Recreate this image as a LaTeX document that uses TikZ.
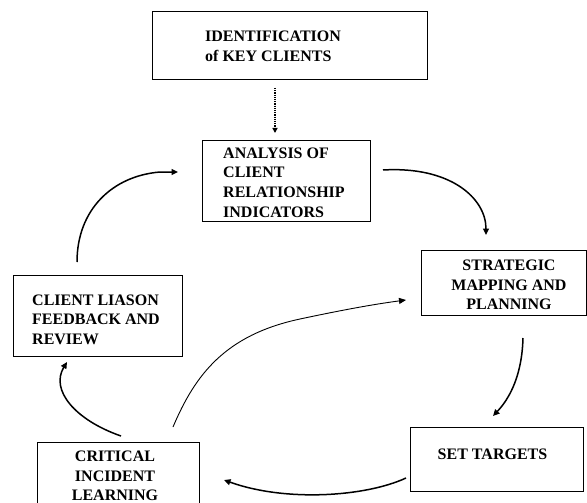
\documentclass[tikz,border=0pt]{standalone}
\usepackage{fontspec}
\setmainfont{Liberation Serif}
\usetikzlibrary{arrows.meta}
\begin{document}
\begin{tikzpicture}[x=1pt,y=-1pt,
  box/.style={draw, line width=1.3pt, rectangle, inner sep=0pt, anchor=north west},
  lbl/.style={font=\fontsize{16}{19.6}\selectfont\bfseries, inner sep=0pt},
  flow/.style={line width=1.5pt, -{Triangle[length=6.5pt,width=6pt]}},
  thinflow/.style={line width=0.9pt, -{Triangle[length=7pt,width=6pt]}},
  dotflow/.style={line width=1.4pt, dash pattern=on 1.2pt off 1pt, -{Triangle[length=5pt,width=5pt]}}]
\useasboundingbox (0,0) rectangle (587,503);

% boxes
\node[box, minimum width=275pt, minimum height=68pt] (ident) at (152,11) {};
\node[box, minimum width=168pt, minimum height=81pt] (analysis) at (202,140) {};
\node[box, minimum width=165pt, minimum height=65pt] (strategic) at (421,250) {};
\node[box, minimum width=169pt, minimum height=81pt] (liason) at (13,275) {};
\node[box, minimum width=162pt, minimum height=80pt] (critical) at (37,442) {};
\node[box, minimum width=173pt, minimum height=64pt] (targets) at (410,427) {};

% labels
\node[lbl, anchor=west, align=left] (identtxt) at (205,46.5) {IDENTIFICATION\\of KEY CLIENTS};
\node[lbl, anchor=west, align=left] (analysistxt) at (223,182.5) {ANALYSIS OF\\CLIENT\\RELATIONSHIP\\INDICATORS};
\node[lbl, align=center] (strategictxt) at (509,285) {STRATEGIC\\MAPPING AND\\PLANNING};
\node[lbl, anchor=west, align=left] (liasontxt) at (32,319.5) {CLIENT LIASON\\FEEDBACK AND\\REVIEW};
\node[lbl, align=center] (criticaltxt) at (115,476) {CRITICAL\\INCIDENT\\LEARNING};
\node[lbl] (targetstxt) at (492.5,454) {SET TARGETS};

% connector ends
\coordinate (d1) at (275,88);
\coordinate (d2) at (275,133);
\coordinate (a1) at (383,170);
\coordinate (a2) at (486,235);
\coordinate (b1) at (523,338);
\coordinate (b2) at (493,416);
\coordinate (c1) at (406,478);
\coordinate (c2) at (224,480);
\coordinate (e1) at (121,436);
\coordinate (e2) at (67,362);
\coordinate (f1) at (77,262);
\coordinate (f2) at (178,172);
\coordinate (g1) at (173,427);
\coordinate (g2) at (406,300);

% connectors
\draw[dotflow] (d1) -- (d2);
\draw[flow] (a1) .. controls (450,166) and (486,198) .. (a2);
\draw[flow] (b1) .. controls (522,375) and (510,398) .. (b2);
\draw[flow] (c1) .. controls (365,497) and (285,502) .. (c2);
\draw[flow] (e1) .. controls (75,420) and (50,390) .. (e2);
\draw[flow] (f1) .. controls (77,210) and (112,176) .. (160,172) -- (f2);
\draw[thinflow] (g1) .. controls (195,375) and (225,335) .. (300,319)
  .. controls (340,310.5) and (372,304.5) .. (g2);
\end{tikzpicture}
\end{document}
